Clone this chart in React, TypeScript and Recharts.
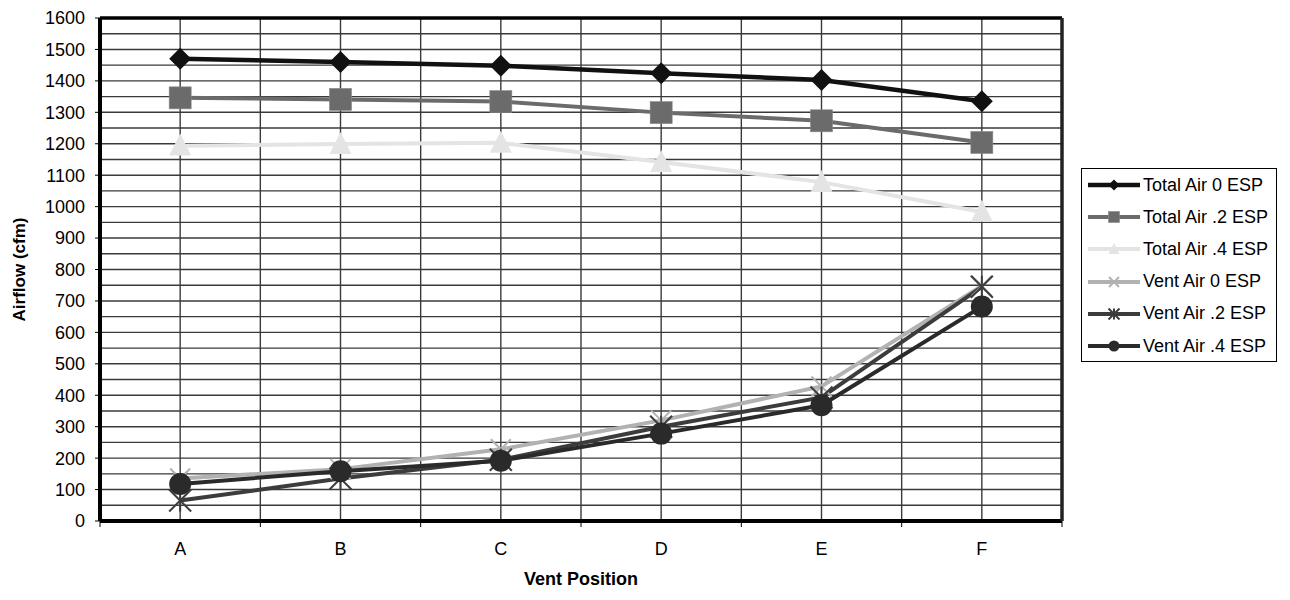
import { LineChart, Line, XAxis, YAxis, ReferenceLine, Legend } from "recharts";

const positions = ["A", "B", "C", "D", "E", "F"];
const totalAir0 = [1470, 1460, 1448, 1424, 1403, 1335];
const totalAir2 = [1346, 1341, 1334, 1299, 1273, 1204];
const totalAir4 = [1194, 1199, 1203, 1142, 1078, 983];
const ventAir0 = [135, 165, 228, 320, 428, 748];
const ventAir2 = [65, 135, 195, 300, 393, 745];
const ventAir4 = [118, 158, 192, 278, 368, 682];
const yTicks = [0, 100, 200, 300, 400, 500, 600, 700, 800, 900, 1000, 1100, 1200, 1300, 1400, 1500, 1600];
const yGrid = [50, 100, 150, 200, 250, 300, 350, 400, 450, 500, 550, 600, 650, 700, 750, 800, 850, 900, 950, 1000, 1050, 1100, 1150, 1200, 1250, 1300, 1350, 1400, 1450, 1500, 1550];

const data = positions.map((p, i) => ({
  pos: p,
  t0: totalAir0[i],
  t2: totalAir2[i],
  t4: totalAir4[i],
  v0: ventAir0[i],
  v2: ventAir2[i],
  v4: ventAir4[i],
}));

const FONT = "'Liberation Sans', Arial, sans-serif";
const GRID = "#3a3a3a";

type MarkProps = { cx?: number; cy?: number; s: number; color: string };

function Mark({ kind, cx, cy, s, color }: MarkProps & { kind: string }) {
  if (cx == null || cy == null) return null;
  if (kind === "diamond")
    return <path d={`M${cx},${cy - s} L${cx + s},${cy} L${cx},${cy + s} L${cx - s},${cy} Z`} fill={color} />;
  if (kind === "square")
    return <rect x={cx - s} y={cy - s} width={s * 2} height={s * 2} fill={color} stroke="#888" strokeWidth={0.6} />;
  if (kind === "triangle")
    return <path d={`M${cx},${cy - s * 1.1} L${cx + s},${cy + s * 0.9} L${cx - s},${cy + s * 0.9} Z`} fill={color} />;
  if (kind === "x")
    return (
      <g stroke={color} strokeWidth={2}>
        <line x1={cx - s} y1={cy - s} x2={cx + s} y2={cy + s} />
        <line x1={cx - s} y1={cy + s} x2={cx + s} y2={cy - s} />
      </g>
    );
  if (kind === "star")
    return (
      <g stroke={color} strokeWidth={2}>
        <line x1={cx - s} y1={cy - s} x2={cx + s} y2={cy + s} />
        <line x1={cx - s} y1={cy + s} x2={cx + s} y2={cy - s} />
        <line x1={cx} y1={cy - s} x2={cx} y2={cy + s} />
      </g>
    );
  return <circle cx={cx} cy={cy} r={s} fill={color} />;
}

const series = [
  { key: "t0", name: "Total Air 0 ESP", color: "#111111", width: 4.5, kind: "diamond", size: 11 },
  { key: "t2", name: "Total Air .2 ESP", color: "#6b6b6b", width: 4, kind: "square", size: 11 },
  { key: "t4", name: "Total Air .4 ESP", color: "#e4e4e4", width: 4, kind: "triangle", size: 11 },
  { key: "v0", name: "Vent Air 0 ESP", color: "#b2b2b2", width: 4, kind: "x", size: 10 },
  { key: "v2", name: "Vent Air .2 ESP", color: "#3c3c3c", width: 4, kind: "star", size: 11 },
  { key: "v4", name: "Vent Air .4 ESP", color: "#2a2a2a", width: 4, kind: "circle", size: 11 },
];

function XTick(props: any) {
  const { x, y, payload, index } = props;
  const half = payload?.offset || 80;
  const top = y - 21;
  return (
    <g>
      <line x1={x - half} y1={top} x2={x - half} y2={top + 6} stroke="#000" />
      {index === positions.length - 1 && (
        <line x1={x + half} y1={top} x2={x + half} y2={top + 6} stroke="#000" />
      )}
      <text x={x} y={y} dy="0.71em" textAnchor="middle" fontSize={18} fontFamily={FONT} fill="#000">
        {payload.value}
      </text>
    </g>
  );
}

function LegendBox() {
  return (
    <div
      style={{
        border: "1px solid #000",
        background: "#fff",
        width: 196,
        height: 194,
        boxSizing: "border-box",
        fontFamily: FONT,
        fontSize: 18,
        color: "#000",
      }}
    >
      {series.map((s) => (
        <div key={s.key} style={{ height: 32.2, display: "flex", alignItems: "center", paddingLeft: 5 }}>
          <svg width={54} height={20} style={{ flex: "none" }}>
            <line x1={1} y1={10} x2={53} y2={10} stroke={s.color} strokeWidth={s.width} />
            <Mark kind={s.kind} cx={27} cy={10} s={s.size * 0.5} color={s.color} />
          </svg>
          <span style={{ marginLeft: 2, whiteSpace: "nowrap" }}>{s.name}</span>
        </div>
      ))}
    </div>
  );
}

export default function App() {
  return (
    <div style={{ position: "absolute", left: 0, top: 0, width: 1290, height: 600, background: "#fff" }}>
      <LineChart width={1290} height={600} data={data} margin={{ top: 18, right: 228, bottom: 0, left: 0 }}>
        <XAxis
          dataKey="pos"
          scale="band"
          height={79}
          axisLine={false}
          tickLine={false}
          tickSize={6}
          tickMargin={15}
          tick={<XTick />}
          interval={0}
          label={{
            content: ({ viewBox }: any) => (
              <text
                x={viewBox.x + viewBox.width / 2}
                y={viewBox.y + 64}
                textAnchor="middle"
                fontSize={18}
                fontWeight="bold"
                fontFamily={FONT}
                fill="#000"
              >
                Vent Position
              </text>
            ),
          }}
        />
        <YAxis
          width={100}
          domain={[0, 1600]}
          ticks={yTicks}
          interval={0}
          axisLine={false}
          tickLine={{ stroke: "#000" }}
          tickSize={5}
          tickMargin={10}
          tick={{ fontSize: 18, fill: "#000", fontFamily: FONT }}
          label={{
            content: ({ viewBox }: any) => {
              const cy = viewBox.y + viewBox.height / 2;
              return (
                <text
                  x={19}
                  y={cy}
                  transform={`rotate(-90 19 ${cy})`}
                  textAnchor="middle"
                  dominantBaseline="central"
                  fontSize={17}
                  fontWeight="bold"
                  fontFamily={FONT}
                  fill="#000"
                >
                  Airflow (cfm)
                </text>
              );
            },
          }}
        />
        {yGrid.map((v) => (
          <ReferenceLine key={"h" + v} y={v} stroke={GRID} strokeWidth={1.4} />
        ))}
        {positions.map((p) => (
          <ReferenceLine key={"c" + p} x={p} stroke={GRID} strokeWidth={1.4} />
        ))}
        {positions.slice(1).map((p) => (
          <ReferenceLine key={"b" + p} x={p} position="start" stroke={GRID} strokeWidth={1.4} />
        ))}
        <ReferenceLine y={0} stroke="#000" strokeWidth={4} />
        <ReferenceLine y={1600} stroke="#000" strokeWidth={3.5} />
        <ReferenceLine x="A" position="start" stroke="#000" strokeWidth={4} />
        <ReferenceLine x="F" position="end" stroke="#222" strokeWidth={3.5} />
        {series.map((s) => (
          <Line
            key={s.key}
            dataKey={s.key}
            name={s.name}
            stroke={s.color}
            strokeWidth={s.width}
            isAnimationActive={false}
            dot={(p: any) => <Mark key={s.key + p.index} kind={s.kind} cx={p.cx} cy={p.cy} s={s.size} color={s.color} />}
            activeDot={false}
          />
        ))}
        <Legend
          layout="vertical"
          align="center"
          verticalAlign="middle"
          content={() => <LegendBox />}
          wrapperStyle={{ left: 1081, top: 168, width: 196, right: "auto", bottom: "auto" }}
        />
      </LineChart>
    </div>
  );
}
